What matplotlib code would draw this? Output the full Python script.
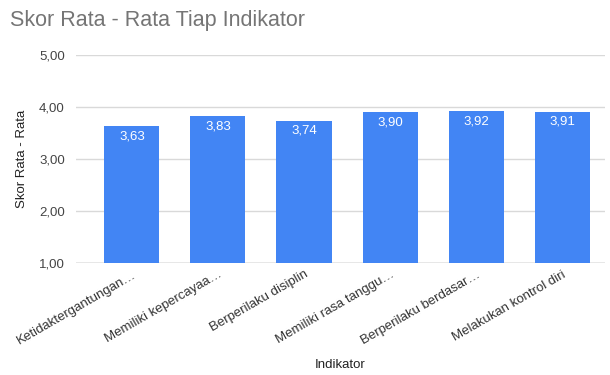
import matplotlib
matplotlib.use("Agg")
import matplotlib.pyplot as plt

categories = ["Ketidaktergantungan…", "Memiliki kepercayaa…", "Berperilaku disiplin",
              "Memiliki rasa tanggu…", "Berperilaku berdasar…", "Melakukan kontrol diri"]
values = [3.63, 3.83, 3.74, 3.90, 3.92, 3.91]
yticks = [1.0, 2.0, 3.0, 4.0, 5.0]

plt.rcParams['font.family'] = ['Liberation Sans', 'DejaVu Sans']

fig = plt.figure(figsize=(6.1, 3.75), dpi=100)
ax = fig.add_axes([0.1246, 0.2987, 0.8674, 0.5546])

x = list(range(len(categories)))
bars = ax.bar(x, values, width=0.64, color="#4285F4", zorder=3)
for xi, v in zip(x, values):
    ax.text(xi, v - 0.08, f"{v:.2f}".replace(".", ","), ha="center", va="top",
            color="white", fontsize=9.5, zorder=4)

ax.set_ylim(1.0, 5.0)
ax.set_xlim(-0.65, 5.5)
ax.set_yticks(yticks)
ax.set_yticklabels([f"{t:.2f}".replace(".", ",") for t in yticks], color="#444444", fontsize=9.5)
ax.yaxis.grid(True, color="#d9d9d9", linewidth=1, zorder=0)
ax.tick_params(axis="y", length=0, pad=8)
ax.tick_params(axis="x", length=0, pad=4)
ax.set_xticks(x)
ax.set_xticklabels(categories, rotation=30, ha="right", rotation_mode="anchor",
                   color="#333333", fontsize=9.5)
for s in ax.spines.values():
    s.set_visible(False)
ax.axhline(1.0, color="#aaaaaa", linewidth=1, zorder=2)

ax.set_ylabel("Skor Rata - Rata", fontsize=9.5, color="#222222", labelpad=8)
ax.set_xlabel("Indikator", fontsize=9.5, color="#222222", labelpad=9)
fig.text(0.016, 0.945, "Skor Rata - Rata Tiap Indikator", fontsize=15.5, color="#757575",
         ha="left", va="center")

fig.savefig("out.png", dpi=100)
